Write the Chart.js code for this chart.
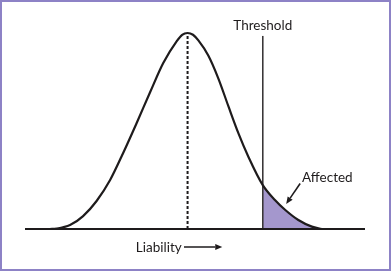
<!DOCTYPE html>
<html>
<head>
<meta charset="utf-8">
<script src="https://cdn.jsdelivr.net/npm/chart.js@4.4.0/dist/chart.umd.min.js"></script>
<style>
  html, body { margin: 0; padding: 0; background: #fff; }
  canvas { display: block; }
</style>
</head>
<body>
<canvas id="chart" width="391" height="272"></canvas>
<script>
// liability (sd units) vs relative frequency
const liability = [-3.06, -2.91, -2.61, -2.32, -2.02, -1.72, -1.43, -1.13, -0.83, -0.54, -0.24, -0.12, 0, 0.12, 0.24, 0.46, 0.68, 0.91, 1.13, 1.35, 1.67, 1.94, 2.17, 2.46, 2.76, 2.98]
const frequency = [0, 0.002, 0.020, 0.066, 0.143, 0.250, 0.388, 0.541, 0.699, 0.847, 0.959, 0.991, 1, 0.991, 0.962, 0.885, 0.770, 0.624, 0.488, 0.369, 0.224, 0.148, 0.097, 0.046, 0.012, 0]
const mean = 0
const threshold = 1.67
const thresholdTop = 0.985
const axisMin = -3.61
const axisMax = 3.94

const ink = '#1e1b1c'
const fillColor = '#a497cd'
const frameColor = '#8d82c6'
const font = '13.5px Lato'

const curve = liability.map((x, i) => ({x: x, y: frequency[i]}))
const tail = curve.filter(p => p.x >= threshold)

function arrow(ctx, x1, y1, x2, y2) {
    const a = Math.atan2(y2 - y1, x2 - x1)
    const len = 7, w = 3
    ctx.beginPath()
    ctx.moveTo(x1, y1)
    ctx.lineTo(x2 - Math.cos(a) * len, y2 - Math.sin(a) * len)
    ctx.stroke()
    ctx.beginPath()
    ctx.moveTo(x2, y2)
    ctx.lineTo(x2 - Math.cos(a) * len - Math.sin(a) * w, y2 - Math.sin(a) * len + Math.cos(a) * w)
    ctx.lineTo(x2 - Math.cos(a) * len + Math.sin(a) * w, y2 - Math.sin(a) * len - Math.cos(a) * w)
    ctx.closePath()
    ctx.fill()
}

const decorations = {
    id: 'decorations',
    beforeDraw(chart) {
        const ctx = chart.ctx
        ctx.save()
        ctx.fillStyle = '#fff'
        ctx.fillRect(0, 0, chart.width, chart.height)
        ctx.restore()
    },
    afterDraw(chart) {
        const ctx = chart.ctx
        const xs = chart.scales.x
        const ys = chart.scales.y
        const area = chart.chartArea
        const base = ys.getPixelForValue(0)
        ctx.save()
        // baseline
        ctx.strokeStyle = ink
        ctx.lineWidth = 2
        ctx.beginPath()
        ctx.moveTo(area.left, base)
        ctx.lineTo(area.right, base)
        ctx.stroke()

        ctx.fillStyle = ink
        ctx.font = font
        ctx.textBaseline = 'alphabetic'
        ctx.textAlign = 'center'
        ctx.fillText('Threshold', xs.getPixelForValue(threshold), ys.getPixelForValue(thresholdTop) - 6)

        ctx.textAlign = 'left'
        ctx.fillText('Affected', xs.getPixelForValue(2.54), ys.getPixelForValue(0.242))
        ctx.lineWidth = 1.6
        arrow(ctx, xs.getPixelForValue(2.5), ys.getPixelForValue(0.232), xs.getPixelForValue(2.19), ys.getPixelForValue(0.128))

        ctx.textAlign = 'center'
        ctx.fillText('Liability', xs.getPixelForValue(-0.64), base + 23)
        arrow(ctx, xs.getPixelForValue(-0.08), base + 18, xs.getPixelForValue(0.77), base + 18)

        // frame
        ctx.strokeStyle = frameColor
        ctx.lineWidth = 2
        ctx.strokeRect(1, 1, chart.width - 2, chart.height - 3)
        ctx.restore()
    }
}

new Chart(document.getElementById('chart'), {
    type: 'line',
    data: {
        datasets: [
            {
                data: curve,
                borderColor: ink,
                borderWidth: 2.2,
                cubicInterpolationMode: 'monotone',
                pointRadius: 0,
                fill: false,
                clip: false,
                order: 0
            },
            {
                data: [{x: threshold, y: 0}, {x: threshold, y: thresholdTop}],
                borderColor: '#3a3738',
                borderWidth: 1.6,
                pointRadius: 0,
                clip: false,
                order: 1
            },
            {
                data: [{x: mean, y: 0}, {x: mean, y: 1}],
                borderColor: ink,
                borderWidth: 2,
                borderDash: [3, 2],
                pointRadius: 0,
                clip: false,
                order: 2
            },
            {
                data: tail,
                borderColor: 'rgba(0,0,0,0)',
                borderWidth: 0,
                backgroundColor: fillColor,
                fill: 'origin',
                cubicInterpolationMode: 'monotone',
                pointRadius: 0,
                clip: false,
                order: 3
            }
        ]
    },
    options: {
        responsive: false,
        animation: false,
        events: [],
        layout: {padding: {left: 25, right: 26, top: 33, bottom: 43}},
        plugins: {legend: {display: false}, tooltip: {enabled: false}},
        scales: {
            x: {type: 'linear', min: axisMin, max: axisMax, display: false},
            y: {type: 'linear', min: 0, max: 1, display: false}
        }
    },
    plugins: [decorations]
});
</script>
</body>
</html>
